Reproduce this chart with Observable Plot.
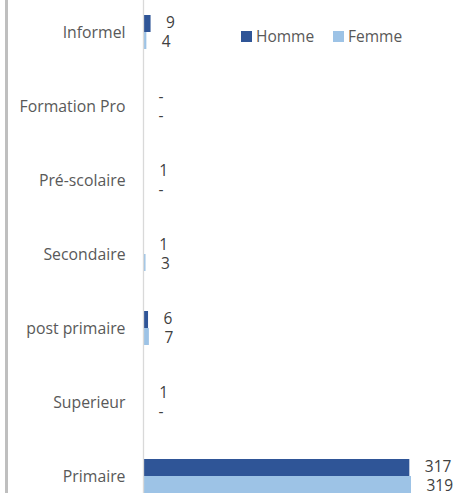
<!DOCTYPE html>
<html>
<head>
<meta charset="utf-8">
<script src="https://cdn.jsdelivr.net/npm/d3@7"></script>
<script src="https://cdn.jsdelivr.net/npm/@observablehq/plot@0.6"></script>
<style>
  html, body { margin: 0; padding: 0; background: #fff; }
  #wrap { position: relative; width: 459px; height: 493px; overflow: hidden; font-family: "Open Sans", sans-serif; }
  #edge { position: absolute; left: 5px; top: 0; width: 3px; height: 493px; background: #BFBFBF; }
  .item { position: absolute; top: 28px; display: flex; align-items: center; font-size: 15.5px; color: #595959; line-height: 17px; }
  .sw { display: inline-block; width: 11px; height: 11px; margin-right: 4px; }
</style>
</head>
<body>
<div id="wrap">
  <div id="chart"></div>
  <div id="edge"></div>
  <div id="legend"></div>
</div>
<script>
const categories = ["Informel", "Formation Pro", "Pré-scolaire", "Secondaire", "post primaire", "Superieur", "Primaire"];
const homme = [9, null, 1, 1, 6, 1, 317];
const femme = [4, null, null, 3, 7, null, 319];
const seriesNames = ["Homme", "Femme"];
const seriesColors = ["#2F5597", "#9DC3E6"];

const rowsH = categories.map((c, i) => ({cat: c, v: homme[i]}));
const rowsF = categories.map((c, i) => ({cat: c, v: femme[i]}));

const font = "'Open Sans', sans-serif";
const labelStyle = {fontSize: 15.5, fill: "#404040", textAnchor: "start", dx: 15, fontFamily: font};

const chart = Plot.plot({
  width: 459,
  height: 493,
  marginLeft: 143,
  marginRight: 48,
  marginTop: 0,
  marginBottom: 0,
  style: {fontFamily: font, background: "transparent"},
  x: {domain: [0, 319], axis: null},
  y: {domain: categories, range: [0, 508], paddingInner: 0.54, paddingOuter: 0.2, label: null},
  marks: [
    Plot.barX(rowsH.filter(d => d.v != null), {x: "v", y: "cat", fill: seriesColors[0], insetBottom: 17}),
    Plot.barX(rowsF.filter(d => d.v != null), {x: "v", y: "cat", fill: seriesColors[1], insetTop: 17}),
    Plot.ruleX([0], {stroke: "#D9D9D9", strokeWidth: 1.3, y1: () => categories[0], y2: () => categories[categories.length-1], insetTop: -60, insetBottom: -60}),
    Plot.text(rowsH, {x: d => d.v ?? 0, y: "cat", text: d => d.v ?? "-", dy: -9.5, ...labelStyle}),
    Plot.text(rowsF, {x: d => d.v ?? 0, y: "cat", text: d => d.v ?? "-", dy: 9.5, ...labelStyle}),
    Plot.axisY({tickSize: 0, tickPadding: 18, fontSize: 15.8, fill: "#595959", label: null})
  ]
});
document.getElementById("chart").appendChild(chart);

const legend = document.getElementById("legend");
const legendLeft = [241, 333];
seriesNames.forEach((n, i) => {
  const item = document.createElement("span");
  item.className = "item";
  item.style.left = legendLeft[i] + "px";
  const sw = document.createElement("span");
  sw.className = "sw";
  sw.style.background = seriesColors[i];
  item.appendChild(sw);
  item.appendChild(document.createTextNode(n));
  legend.appendChild(item);
});
</script>
</body>
</html>
